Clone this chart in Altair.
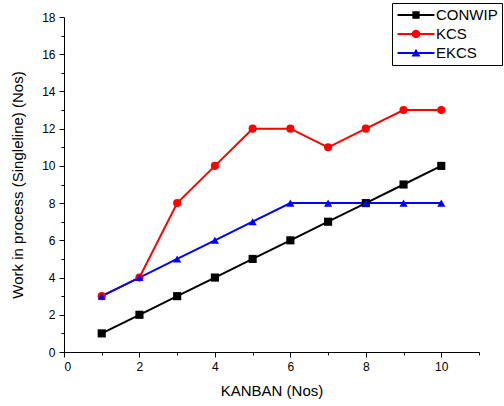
import altair as alt
import pandas as pd

kanban = [1, 2, 3, 4, 5, 6, 7, 8, 9, 10]
conwip = [1, 2, 3, 4, 5, 6, 7, 8, 9, 10]
kcs = [3, 4, 8, 10, 12, 12, 11, 12, 13, 13]
ekcs = [3, 4, 5, 6, 7, 8, 8, 8, 8, 8]

series_names = ["CONWIP", "KCS", "EKCS"]
series_colors = ["#000000", "#ff0000", "#0000ff"]
marker_shapes = ["square", "circle", "triangle-up"]

rows = []
for name, vals in zip(series_names, [conwip, kcs, ekcs]):
    for k, v in zip(kanban, vals):
        rows.append({"kanban": k, "wip": v, "series": name})
df = pd.DataFrame(rows)

line_part = "M-2.64,-0.14H2.64V0.14H-2.64Z"
legend_paths = [
    line_part + " M-0.52,-0.52H0.52V0.52H-0.52Z",
    line_part + " M-0.6,0A0.6,0.6 0 1,1 0.6,0A0.6,0.6 0 1,1 -0.6,0Z",
    line_part + " M0,-0.6L0.64,0.5H-0.64Z",
]

color_scale = alt.Scale(domain=series_names, range=series_colors)

axis_common = dict(
    grid=False,
    domainColor="black",
    tickColor="black",
    labelColor="black",
    titleColor="black",
    labelFont="Liberation Sans",
    titleFont="Liberation Sans",
    labelFontSize=12,
    titleFontSize=15,
    titleFontWeight="normal",
    tickSize={"condition": {"test": "datum.value % 2 == 0", "value": 5}, "value": 3},
    labelPadding=4,
)

x_enc = alt.X(
    "kanban:Q",
    title="KANBAN (Nos)",
    scale=alt.Scale(domain=[0, 11], nice=False),
    axis=alt.Axis(
        values=list(range(0, 12)),
        labelExpr="datum.value % 2 == 0 && datum.value <= 10 ? datum.label : ''",
        titlePadding=11,
        **axis_common,
    ),
)
y_enc = alt.Y(
    "wip:Q",
    title="Work in process (Singleline) (Nos)",
    scale=alt.Scale(domain=[0, 18], nice=False),
    axis=alt.Axis(
        values=list(range(0, 19)),
        labelExpr="datum.value % 2 == 0 ? datum.label : ''",
        titlePadding=16,
        **axis_common,
    ),
)

legend_def = alt.Legend(
    orient="none",
    legendX=328,
    legendY=-14,
    symbolSize=196,
    symbolOpacity=1,
    symbolOffset=12,
    labelOffset=12,
    labelFont="Liberation Sans",
    labelFontSize=15,
    labelColor="black",
    strokeColor="black",
    fillColor="white",
    padding=4,
    rowPadding=3,
)

base = alt.Chart(df)

lines = base.mark_line(strokeWidth=2).encode(
    x=x_enc,
    y=y_enc,
    color=alt.Color("series:N", scale=color_scale, legend=None),
    detail="series:N",
)

points = base.mark_point(filled=True, size=66, opacity=1).encode(
    x=x_enc,
    y=y_enc,
    color=alt.Color("series:N", scale=color_scale, legend=None),
    shape=alt.Shape("series:N", scale=alt.Scale(domain=series_names, range=marker_shapes), legend=None),
)

legend_layer = base.mark_point(filled=True, opacity=0).encode(
    x=x_enc,
    y=y_enc,
    color=alt.Color("series:N", scale=color_scale, title=None, legend=legend_def),
    shape=alt.Shape(
        "series:N",
        scale=alt.Scale(domain=series_names, range=legend_paths),
        title=None,
        legend=legend_def,
    ),
)

chart = (
    alt.layer(lines, points, legend_layer)
    .resolve_scale(shape="independent", color="independent")
    .resolve_legend(shape="independent", color="independent")
    .properties(
        width=415,
        height=335,
        autosize=alt.AutoSizeParams(type="none"),
        padding={"left": 64, "top": 17, "right": 25, "bottom": 54},
        background="white",
    )
    .configure_view(stroke=None)
)

chart.save("out.html", embed_options={"renderer": "svg", "actions": False})
